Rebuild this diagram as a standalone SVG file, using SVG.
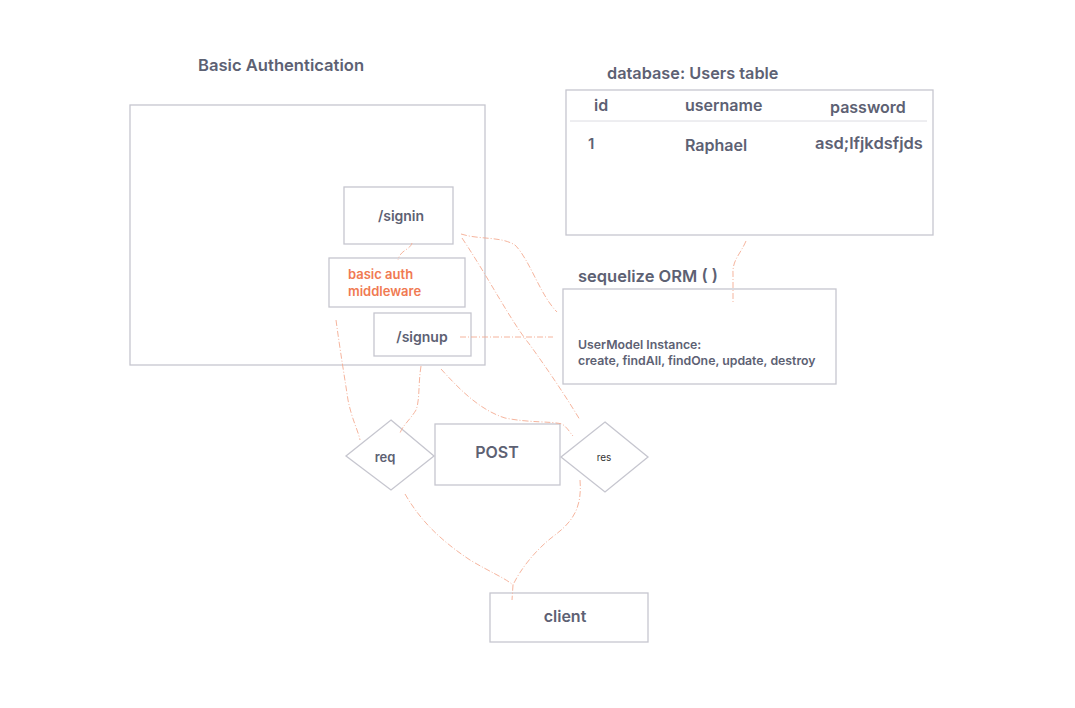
<svg xmlns="http://www.w3.org/2000/svg" width="1075" height="708" viewBox="0 0 1075 708">
<style>
.box{fill:#fff;stroke:#c6c6cf;stroke-width:1.3}
.t{font-family:Inter,"Liberation Sans",sans-serif;fill:#5d6173;font-weight:600}
.o{font-family:Inter,"Liberation Sans",sans-serif;fill:#f07a52;font-weight:600;font-size:13px}
.c{fill:none;stroke:#f4ab92;stroke-width:0.9;stroke-dasharray:6 2 1 2}
</style>
<rect width="1075" height="708" fill="#fff"/>
<g id="basic-auth">
<text class="t" x="198" y="71" font-size="16.6">Basic Authentication</text>
<rect class="box" x="130" y="105" width="355" height="260"/>
</g>
<g id="signin">
<rect class="box" x="344" y="187" width="109" height="57"/>
<text class="t" x="401" y="221" font-size="14" text-anchor="middle">/signin</text>
</g>
<g id="middleware">
<rect class="box" x="329" y="258" width="136" height="49"/>
<text class="o" x="348" y="279">basic auth</text>
<text class="o" x="348" y="296">middleware</text>
</g>
<g id="signup">
<rect class="box" x="374" y="313" width="97" height="43"/>
<text class="t" x="422" y="342" font-size="14" text-anchor="middle">/signup</text>
</g>
<g id="users-table">
<text class="t" x="607" y="79" font-size="16.3">database: Users table</text>
<rect class="box" x="566" y="90" width="367" height="145"/>
<line x1="570" y1="121" x2="927" y2="121" stroke="#dcdce2" stroke-width="1"/>
<text class="t" x="594" y="111" font-size="16">id</text>
<text class="t" x="685" y="111" font-size="16">username</text>
<text class="t" x="830" y="113" font-size="16">password</text>
<text class="t" x="588" y="149" font-size="15">1</text>
<text class="t" x="685" y="151" font-size="16">Raphael</text>
<text class="t" x="815" y="149" font-size="16.5">asd;lfjkdsfjds</text>
</g>
<g id="orm">
<text class="t" x="578" y="282" font-size="16.5">sequelize ORM ( )</text>
<rect class="box" x="563" y="289" width="273" height="95"/>
<text class="t" x="578" y="349" font-size="12.3">UserModel Instance:</text>
<text class="t" x="578" y="365" font-size="12.3">create, findAll, findOne, update, destroy</text>
</g>
<g id="req">
<polygon class="box" points="391,420 434,456 391,490 346,456"/>
<text class="t" x="385" y="462" font-size="13" text-anchor="middle">req</text>
</g>
<g id="post">
<rect class="box" x="435" y="424" width="125" height="61"/>
<text class="t" x="497" y="458" font-size="16" text-anchor="middle">POST</text>
</g>
<g id="res">
<polygon class="box" points="605,422 648,457 605,492 561,457"/>
<text x="604" y="461" font-size="10" text-anchor="middle" font-family="Inter,'Liberation Sans',sans-serif" fill="#333">res</text>
</g>
<g id="client">
<rect class="box" x="490" y="593" width="158" height="49"/>
<text class="t" x="565" y="622" font-size="16" text-anchor="middle">client</text>
</g>
<g id="connectors">
<path class="c" d="M412,243 C410,250 400,250 398,260"/>
<path class="c" d="M461,234 C480,240 500,236 515,245 C530,260 540,295 557,312"/>
<path class="c" d="M462,238 C490,280 510,320 530,345 C548,370 565,395 580,420"/>
<path class="c" d="M460,337 L553,337"/>
<path class="c" d="M746,241 C740,255 732,260 733,275 L733,303"/>
<path class="c" d="M336,320 C340,350 345,380 348,400 C352,420 358,430 360,440"/>
<path class="c" d="M421,366 C418,385 420,400 416,410 C410,420 403,425 400,433"/>
<path class="c" d="M441,369 C460,390 480,410 505,418 C530,423 550,421 562,424 C568,428 570,433 573,436"/>
<path class="c" d="M405,494 C420,520 440,540 470,560 C490,572 505,578 513,585 L512,600"/>
<path class="c" d="M580,480 C582,505 575,520 555,535 C535,550 520,570 513,585"/>
</g>
</svg>
